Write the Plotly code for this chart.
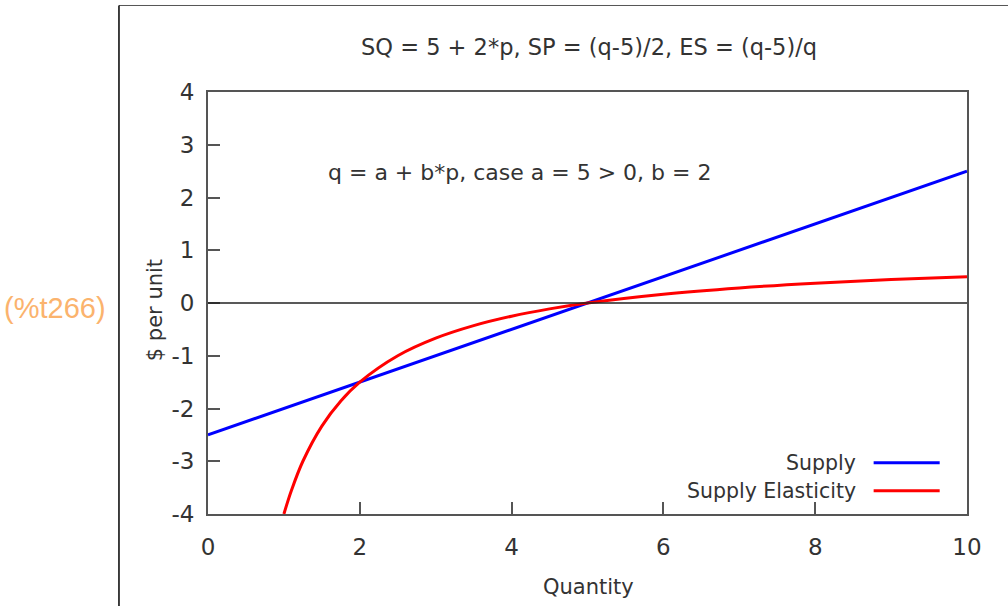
import plotly.graph_objects as go

# Supply price line SP = (q-5)/2
supply_q = [0, 10]
supply_p = [-2.5, 2.5]

# Supply elasticity ES = (q-5)/q, sampled values
elas_q = [1.0, 1.1, 1.25, 1.5, 1.75, 2.0, 2.5, 3.0, 3.5, 4.0, 4.5, 5.0, 6.0, 7.0, 8.0, 9.0, 10.0]
elas_v = [-4.0, -3.55, -3.0, -2.333, -1.857, -1.5, -1.0, -0.667, -0.429, -0.25, -0.111, 0.0,
          0.167, 0.286, 0.375, 0.444, 0.5]

x_ticks = [0, 2, 4, 6, 8, 10]
y_ticks = [-4, -3, -2, -1, 0, 1, 2, 3, 4]
y_tick_text = ["-4", "-3", "-2", "-1", "0", "1", "2", "3", "4"]

title_text = "SQ = 5 + 2*p, SP = (q-5)/2, ES = (q-5)/q"
note_text = "q = a + b*p, case a = 5 > 0, b = 2"
legend_names = ["Supply", "Supply Elasticity"]
legend_colors = ["#0000ff", "#ff0000"]

FONT = "DejaVu Sans"
TXT = "#333333"

fig = go.Figure()
fig.add_trace(go.Scatter(x=supply_q, y=supply_p, mode="lines",
                         line=dict(color=legend_colors[0], width=3),
                         name=legend_names[0], showlegend=False))
fig.add_trace(go.Scatter(x=elas_q, y=elas_v, mode="lines", line_shape="spline",
                         line=dict(color=legend_colors[1], width=3),
                         name=legend_names[1], showlegend=False))

axis_common = dict(showgrid=False, zeroline=False, showline=True, linecolor="#555555",
                   linewidth=2, mirror=True, ticks="inside", ticklen=12, tickwidth=2,
                   tickcolor="#555555", tickfont=dict(family=FONT, size=23, color=TXT))

fig.update_xaxes(range=[0, 10], tickvals=x_ticks, ticklabelstandoff=11, **axis_common)
fig.update_yaxes(range=[-4, 4], tickvals=y_ticks, ticktext=y_tick_text,
                 ticklabelstandoff=7, **axis_common)

# horizontal zero line
fig.add_shape(type="line", xref="x", yref="y", x0=0, x1=10, y0=0, y1=0,
              line=dict(color="#222222", width=1.5))

# axis titles
fig.add_annotation(text="Quantity", xref="paper", yref="paper", x=0.501, y=-0.173,
                   showarrow=False, xanchor="center", yanchor="middle",
                   font=dict(family=FONT, size=21, color=TXT))
fig.add_annotation(text="$ per unit", xref="paper", yref="paper", x=-0.0698, y=0.483,
                   showarrow=False, xanchor="center", yanchor="middle", textangle=-90,
                   font=dict(family=FONT, size=21, color=TXT))

# title and inner note
fig.add_annotation(text=title_text, xref="paper", yref="paper", x=0.502, y=1.107,
                   showarrow=False, xanchor="center", yanchor="middle",
                   font=dict(family=FONT, size=22.5, color=TXT))
fig.add_annotation(text=note_text, x=1.555, y=2.48, xref="x", yref="y", showarrow=False,
                   xanchor="left", yanchor="middle",
                   font=dict(family=FONT, size=22, color=TXT))

# key at the lower right: label followed by line sample
for i, (name, col) in enumerate(zip(legend_names, legend_colors)):
    yv = -3.03 - 0.53 * i
    fig.add_annotation(text=name, x=8.56, y=yv, xref="x", yref="y", showarrow=False,
                       xanchor="right", yanchor="middle",
                       font=dict(family=FONT, size=20.5, color=TXT))
    fig.add_shape(type="line", xref="x", yref="y", x0=8.77, x1=9.64, y0=yv, y1=yv,
                  line=dict(color=col, width=3))

# output-cell frame and label
fig.add_shape(type="line", xref="paper", yref="paper", x0=-0.1173, x1=1.06, y0=1.205, y1=1.205,
              line=dict(color="#555555", width=1))
fig.add_shape(type="line", xref="paper", yref="paper", x0=-0.1173, x1=-0.1173, y0=1.205, y1=-0.3,
              line=dict(color="#000000", width=1.5))
fig.add_annotation(text="(%t266)", xref="paper", yref="paper", x=-0.1318, y=0.488,
                   showarrow=False, xanchor="right", yanchor="middle",
                   font=dict(family="Liberation Sans", size=29, color="#fbb36d"))

fig.update_layout(width=1008, height=606, margin=dict(l=208, r=41, t=92, b=92),
                  plot_bgcolor="white", paper_bgcolor="white", showlegend=False)

fig.write_html("out.html")
